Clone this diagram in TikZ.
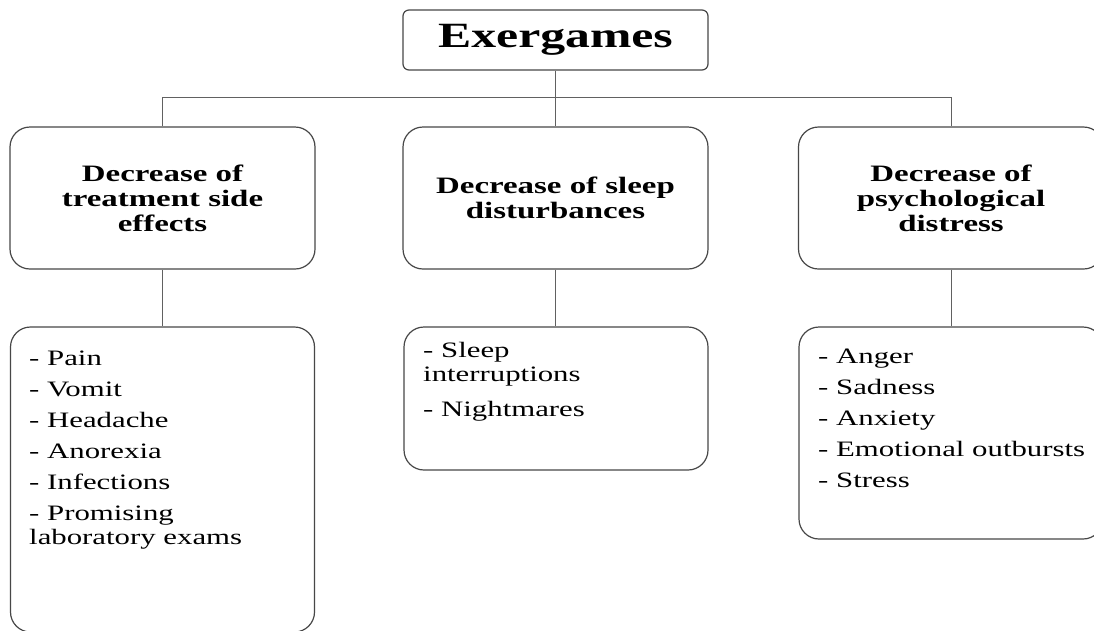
\documentclass[tikz,border=0pt]{standalone}
\usepackage{fontspec}
\setmainfont{Liberation Serif}
\newfontfamily\wideserif{Liberation Serif}[FakeStretch=1.4]
\begin{document}
\begin{tikzpicture}[x=1pt,y=-1pt,
  boxline/.style={draw=black!72, line width=1.2pt},
  topbox/.style={boxline, rounded corners=6pt, minimum width=305pt, minimum height=60pt, inner sep=0pt,
    font=\wideserif\bfseries\fontsize{35.5}{40}\selectfont},
  headbox/.style={boxline, rounded corners=20pt, minimum width=305pt, minimum height=142pt, inner sep=0pt,
    align=center, font=\wideserif\bfseries\fontsize{23.5}{25}\selectfont},
  listbox/.style={boxline, rounded corners=20pt, minimum width=304pt, inner sep=0pt},
  listtext/.style={anchor=north west, inner sep=0pt, align=left,
    font=\wideserif\fontsize{22}{24}\selectfont},
  conn/.style={draw=black!62, line width=1pt}]
\useasboundingbox (0,0) rectangle (1094,630);
\clip (0,0) rectangle (1094,630);
\fill[white] (0,0) rectangle (1094,630);

\node[topbox] (top) at (555.5,40) {Exergames};

\node[headbox] (L1) at (162.5,198) {Decrease of\\treatment side\\effects};
\node[headbox] (M1) at (555.5,198) {Decrease of sleep\\disturbances};
\node[headbox] (R1) at (951,198) {Decrease of\\psychological\\distress};

\node[listbox, minimum height=305pt] (L2) at (162.5,479.5) {};
\node[listbox, minimum height=143pt] (M2) at (556,398.5) {};
\node[listbox, minimum height=212pt] (R2) at (951,433) {};

\coordinate (bus) at (555.5,97);
\draw[conn] (top.south) -- (M1.north);
\draw[conn] (L1.north) -- (L1.north |- bus) -- (R1.north |- bus) -- (R1.north);
\draw[conn] (L1.south) -- (L1.south |- L2.north);
\draw[conn] (M1.south) -- (M1.south |- M2.north);
\draw[conn] (R1.south) -- (R1.south |- R2.north);

\node[listtext] (L2t) at (29,348.2) {\strut - Pain\\[7pt]- Vomit\\[7pt]- Headache\\[7pt]- Anorexia\\[7pt]- Infections\\[7pt]- Promising\\laboratory exams};
\node[listtext] (M2t) at (423,340.2) {\strut - Sleep\\interruptions\\[11pt]- Nightmares};
\node[listtext] (R2t) at (818,346.2) {\strut - Anger\\[7pt]- Sadness\\[7pt]- Anxiety\\[7pt]- Emotional outbursts\\[7pt]- Stress};
\end{tikzpicture}
\end{document}
